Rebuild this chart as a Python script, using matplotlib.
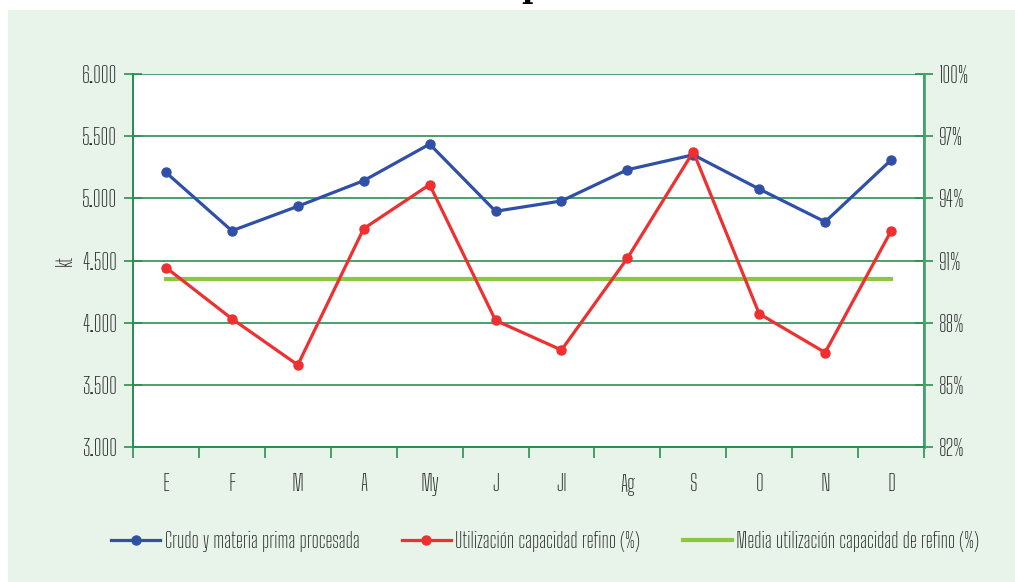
import matplotlib
matplotlib.use("Agg")
import matplotlib.pyplot as plt
from matplotlib.patches import Rectangle
from matplotlib.ticker import FixedLocator, NullFormatter, FuncFormatter

meses = ["E", "F", "M", "A", "My", "J", "Jl", "Ag", "S", "O", "N", "D"]
crudo_kt = [5208, 4739, 4936, 5142, 5436, 4896, 4979, 5230, 5350, 5075, 4811, 5308]
utilizacion_pct = [90.66, 88.19, 85.96, 92.54, 94.66, 88.11, 86.68, 91.11, 96.25, 88.43, 86.56, 92.42]
media_pct = 90.13

kt_ticks = [3000, 3500, 4000, 4500, 5000, 5500, 6000]
pct_ticks = [82, 85, 88, 91, 94, 97, 100]

# condensed face first, plain sans as fallback
plt.rcParams["font.family"] = ["Big Shoulders Text", "Pathway Gothic One", "DejaVu Sans"]
plt.rcParams["font.weight"] = "semibold"

VERDE = "#2a9050"
TEXTO = "#262626"
FONDO = "#e8f3ea"

fig = plt.figure(figsize=(10.15, 5.82), dpi=100, facecolor="white")
fig.patches.append(Rectangle((8 / 1015, 0), 1, 1 - 10 / 582, transform=fig.transFigure,
                             facecolor=FONDO, edgecolor="none", zorder=-10))
fig.text(532 / 1015, 1 + 3 / 582, "p", family="DejaVu Serif", fontweight="bold",
         fontsize=22, ha="center", va="baseline", color="black")

ax = fig.add_axes([133 / 1015, 1 - 447 / 582, 791 / 1015, 373 / 582])
ax.set_facecolor("white")
x = list(range(len(meses)))

ax.plot(x, crudo_kt, color="#3050a8", lw=2.3, marker="o", ms=6.5,
        label="Crudo y materia prima procesada")
ax.set_xlim(-0.5, len(meses) - 0.5)
ax.set_ylim(3000, 6000)
ax.set_yticks(kt_ticks)
ax.yaxis.set_major_formatter(FuncFormatter(lambda v, p: f"{v:,.0f}".replace(",", ".")))
ax.grid(axis="y", color=VERDE, lw=1.2)
ax.set_axisbelow(True)
ax.set_ylabel("kt", fontsize=15, color=TEXTO, labelpad=4)

# category boundaries carry the ticks, centres carry the labels
ax.xaxis.set_major_locator(FixedLocator([i - 0.5 for i in range(len(meses) + 1)]))
ax.xaxis.set_major_formatter(NullFormatter())
ax.xaxis.set_minor_locator(FixedLocator(x))
ax.set_xticklabels(meses, minor=True)
ax.tick_params(axis="x", which="major", direction="out", length=8, width=1.2, color=VERDE)
ax.tick_params(axis="x", which="minor", length=0, pad=19, labelsize=16, labelcolor=TEXTO)
ax.tick_params(axis="y", direction="inout", length=13, width=1.2, color=VERDE,
               labelsize=16, labelcolor=TEXTO, pad=5)

ax2 = ax.twinx()
ax2.patch.set_visible(False)
ax2.plot([x[0], x[-1]], [media_pct, media_pct], color="#8dc63f", lw=3,
         label="Media utilización capacidad de refino (%)", zorder=2)
ax2.plot(x, utilizacion_pct, color="#ee3030", lw=2.3, marker="o", ms=6.5,
         label="Utilización capacidad refino (%)", zorder=3)
ax2.set_ylim(82, 100)
ax2.set_yticks(pct_ticks)
ax2.yaxis.set_major_formatter(FuncFormatter(lambda v, p: f"{v:.0f}%"))
ax2.tick_params(axis="y", direction="inout", length=13, width=1.2, color=VERDE,
                labelsize=16, labelcolor=TEXTO, pad=4)

for a in (ax, ax2):
    for s in a.spines.values():
        s.set_color(VERDE)
        s.set_linewidth(1.3)
ax.spines["top"].set_visible(False)
ax2.spines["top"].set_visible(False)
ax2.spines["right"].set_color("#4aa070")
ax2.spines["right"].set_linewidth(2)

h1, l1 = ax.get_legend_handles_labels()
h2, l2 = ax2.get_legend_handles_labels()
fig.legend([h1[0], h2[1], h2[0]], [l1[0], l2[1], l2[0]], loc="center",
           bbox_to_anchor=(545 / 1015, 1 - 541 / 582), ncol=3, frameon=False,
           fontsize=15, labelcolor=TEXTO, handlelength=2.35, handletextpad=0.2,
           columnspacing=2.05)

fig.savefig("out.png", dpi=100)
